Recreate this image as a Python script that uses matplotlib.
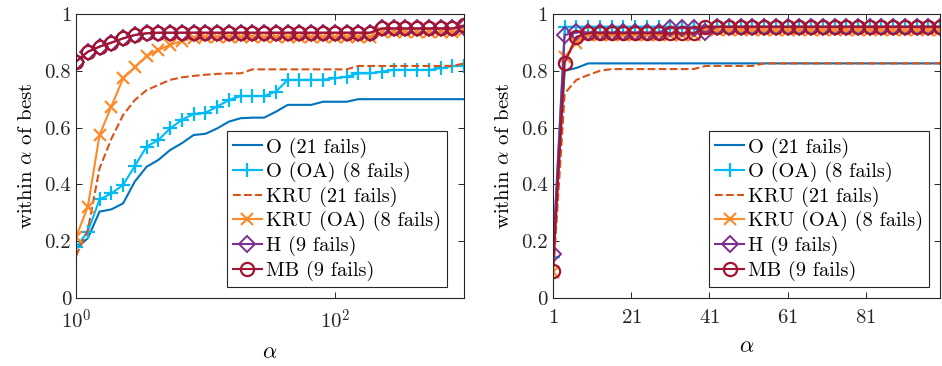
import numpy as np
import matplotlib
matplotlib.use("Agg")
from matplotlib import pyplot as plt

plt.rcParams['font.family'] = 'cmr10'
plt.rcParams['mathtext.fontset'] = 'cm'
plt.rcParams['axes.unicode_minus'] = False
plt.rcParams['axes.formatter.use_mathtext'] = True

# alpha grids (34 sample points per panel)
alpha_log = np.logspace(0, 3, 34)
alpha_lin = np.arange(1, 101, 3)

labels = ["O (21 fails)", "O (OA) (8 fails)", "KRU (21 fails)",
          "KRU (OA) (8 fails)", "H (9 fails)", "MB (9 fails)"]

# left panel (log alpha)
o_left = [0.175, 0.210, 0.304, 0.312, 0.333, 0.410, 0.462, 0.486, 0.521, 0.545,
          0.574, 0.578, 0.597, 0.621, 0.633, 0.635, 0.635, 0.656, 0.680, 0.680,
          0.680, 0.691, 0.691, 0.691, 0.700, 0.700, 0.700, 0.700, 0.700, 0.700,
          0.700, 0.700, 0.700, 0.700]
ooa_left = [0.178, 0.234, 0.347, 0.368, 0.398, 0.465, 0.533, 0.556, 0.597, 0.627,
            0.648, 0.652, 0.674, 0.697, 0.711, 0.711, 0.711, 0.727, 0.768, 0.768,
            0.768, 0.768, 0.774, 0.779, 0.791, 0.791, 0.797, 0.803, 0.803, 0.803,
            0.803, 0.809, 0.817, 0.817]
kru_left = [0.148, 0.239, 0.456, 0.560, 0.644, 0.697, 0.732, 0.750, 0.768, 0.777,
            0.782, 0.786, 0.789, 0.791, 0.791, 0.805, 0.805, 0.805, 0.805, 0.805,
            0.805, 0.805, 0.805, 0.805, 0.817, 0.817, 0.817, 0.817, 0.817, 0.817,
            0.817, 0.817, 0.817, 0.826]
kruoa_left = [0.214, 0.321, 0.574, 0.674, 0.773, 0.812, 0.852, 0.873, 0.891, 0.905,
              0.915, 0.920, 0.920, 0.920, 0.920, 0.920, 0.920, 0.920, 0.920, 0.920,
              0.920, 0.920, 0.920, 0.920, 0.920, 0.920, 0.935, 0.935, 0.935, 0.935,
              0.935, 0.935, 0.935, 0.943]
h_left = [0.832, 0.867, 0.885, 0.899, 0.914, 0.926, 0.932, 0.934, 0.934, 0.934,
          0.934, 0.934, 0.934, 0.934, 0.934, 0.934, 0.934, 0.934, 0.934, 0.934,
          0.934, 0.934, 0.934, 0.934, 0.934, 0.934, 0.949, 0.949, 0.949, 0.949,
          0.949, 0.949, 0.949, 0.955]
mb_left = [0.832, 0.867, 0.885, 0.899, 0.914, 0.926, 0.932, 0.934, 0.934, 0.934,
           0.934, 0.934, 0.934, 0.934, 0.934, 0.934, 0.934, 0.934, 0.934, 0.934,
           0.934, 0.934, 0.934, 0.934, 0.934, 0.934, 0.949, 0.949, 0.949, 0.949,
           0.949, 0.949, 0.949, 0.960]

# right panel (linear alpha)
o_right = [0.140, 0.800, 0.810] + [0.826] * 31
ooa_right = [0.145] + [0.955] * 33
kru_right = [0.070, 0.720, 0.768, 0.785, 0.800] + [0.806] * 8 + [0.817] * 5 + [0.826] * 16
kruoa_right = [0.090, 0.850, 0.897] + [0.925] * 10 + [0.945] * 21
h_right = [0.155, 0.926] + [0.935] * 8 + [0.950] * 3 + [0.935] + [0.955] * 20
mb_right = [0.095, 0.829, 0.920] + [0.932] * 10 + [0.955] * 21

styles = [
    dict(color='#0072BD', ls='-', marker=None),
    dict(color='#00BBF5', ls='-', marker='+', ms=10, mew=1.6),
    dict(color='#D95319', ls='--', marker=None),
    dict(color='#FF8A2B', ls='-', marker='x', ms=8, mew=1.6),
    dict(color='#7E2F8E', ls='-', marker='D', ms=8, mew=1.4, mfc='none'),
    dict(color='#A2142F', ls='-', marker='o', ms=9.5, mew=1.6, mfc='none'),
]


def draw_panel(ax, x, series, leg_x):
    for y, lab, st in zip(series, labels, styles):
        ax.plot(x, y, label=lab, lw=1.5, **st)
    ax.set_ylim(0, 1)
    ax.set_yticks([0, 0.2, 0.4, 0.6, 0.8, 1])
    ax.set_yticklabels(["0", "0.2", "0.4", "0.6", "0.8", "1"])
    ax.set_ylabel(r"within $\alpha$ of best", fontsize=15, labelpad=6)
    ax.set_xlabel(r"$\alpha$", fontsize=16, labelpad=7)
    ax.tick_params(direction='in', top=True, right=True, labelsize=15,
                   length=4, width=0.7, colors='#262626')
    ax.tick_params(axis='x', pad=8)
    for s in ax.spines.values():
        s.set_linewidth(0.8)
        s.set_color('#262626')
    leg = ax.legend(loc='lower right', bbox_to_anchor=(leg_x, 0.039),
                    fontsize=14.7, handlelength=1.4, handletextpad=0.2,
                    labelspacing=0.22, borderpad=0.3, borderaxespad=0,
                    fancybox=False, framealpha=1)
    leg.get_frame().set_edgecolor('#262626')
    leg.get_frame().set_linewidth(0.8)


fig = plt.figure(figsize=(9.42, 3.66), dpi=100)
ax1 = fig.add_axes([0.0807, 0.1858, 0.412, 0.776])
ax2 = fig.add_axes([0.587, 0.1858, 0.411, 0.776])

draw_panel(ax1, alpha_log, [o_left, ooa_left, kru_left, kruoa_left, h_left, mb_left], 0.956)
ax1.set_xscale('log')
ax1.set_xlim(1, 1000)
ax1.set_xticks([1, 100])
ax1.set_xticklabels([r"$10^0$", r"$10^2$"])
ax1.minorticks_off()

draw_panel(ax2, alpha_lin, [o_right, ooa_right, kru_right, kruoa_right, h_right, mb_right], 0.972)
ax2.set_xlim(1, 100)
ax2.set_xticks([1, 21, 41, 61, 81])

fig.savefig("out.png", dpi=100)
